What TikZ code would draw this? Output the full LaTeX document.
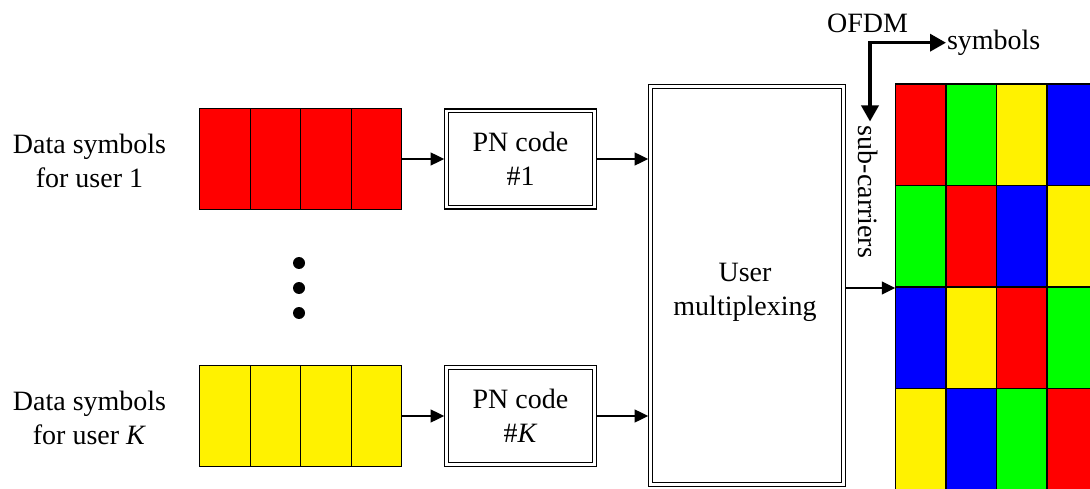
\documentclass[tikz,border=0pt]{standalone}
\usepackage{fontspec}
\setmainfont{Liberation Serif}
\usetikzlibrary{arrows.meta}
\begin{document}
\begin{tikzpicture}[x=1pt,y=-1pt,
  every node/.style={font=\fontsize{28}{34}\selectfont},
  txt/.style={align=center, inner sep=0pt},
  cell/.style={draw, line width=1.3pt, minimum width=50.5pt, minimum height=101pt, inner sep=0pt, outer sep=0pt},
  gcell/.style={draw, line width=1.5pt, minimum width=50.5pt, minimum height=101.5pt, inner sep=0pt, outer sep=0pt},
  dblbox/.style={draw, line width=1.3pt, double, double distance=2.2pt, inner sep=0pt, outer sep=2.4pt, align=center},
  arr/.style={line width=1.4pt, -{Triangle[length=13.5pt,width=13pt]}},
  bigarr/.style={line width=3.5pt, line join=miter, {Triangle[length=16pt,width=17pt]}-{Triangle[length=16pt,width=17pt]}},
  dot/.style={circle, fill=black, minimum size=12pt, inner sep=0pt}
]
\useasboundingbox (0,0) rectangle (1090,489);

% data symbol blocks
\foreach \i/\x in {1/225,2/275.5,3/326,4/376.5}{
  \node[cell, fill=red] (a\i) at (\x,159) {};
  \node[cell, fill=yellow] (k\i) at (\x,416) {};
}
\node[txt] (lab1) at (89.5,160.5) {Data symbols\\for user 1};
\node[txt] (labK) at (89.5,417.5) {Data symbols\\for user \textit{K}};

% dots
\node[dot] (d1) at (299,263) {};
\node[dot] (d2) at (299,288) {};
\node[dot] (d3) at (299,313) {};

% PN code boxes
\node[dblbox, minimum width=148pt, minimum height=96.5pt] (pn1) at (520.5,159) {PN code\\\#1};
\node[dblbox, minimum width=148pt, minimum height=97pt] (pnK) at (520.5,416) {PN code\\\#\textit{K}};

% user multiplexing
\node[dblbox, minimum width=193pt, minimum height=398pt] (mux) at (747,285.5) {};
\node[txt] (muxlabel) at ([xshift=-2pt,yshift=-7.3pt]mux.center) {User\\multiplexing};

% grid
\foreach \c/\r/\col in {1/1/red,2/1/green,3/1/yellow,4/1/blue,
                         1/2/green,2/2/red,3/2/blue,4/2/yellow,
                         1/3/blue,2/3/yellow,3/3/red,4/3/green,
                         1/4/yellow,2/4/blue,3/4/green,4/4/red}{
  \node[gcell, fill=\col] (g\r\c) at ({920.5+50.5*(\c-1)},{134.75+101.5*(\r-1)}) {};
}

% connectors
\draw[arr] (a4.east) -- (a4.east -| pn1.west);
\draw[arr] (pn1.east) -- (pn1.east -| mux.west);
\draw[arr] (k4.east) -- (k4.east -| pnK.west);
\draw[arr] (pnK.east) -- (pnK.east -| mux.west);
\draw[arr] ([yshift=-2.5pt]mux.east) -- ([yshift=-2.5pt]mux.east -| g31.west);

% OFDM axes
\node[anchor=base, inner sep=0pt] (ofdm) at (867.5,33) {OFDM};
\node[anchor=base west, inner sep=0pt, outer sep=1pt] (sym) at (946,50) {symbols};
\node[rotate=-90, anchor=west, inner sep=0pt, outer sep=4.5pt] (sub) at (868,121.5) {sub-carriers};
\coordinate (corner) at (870,42.7);
\draw[bigarr] (corner |- sub.west) -- (corner) -- (corner -| sym.west);
\end{tikzpicture}
\end{document}
